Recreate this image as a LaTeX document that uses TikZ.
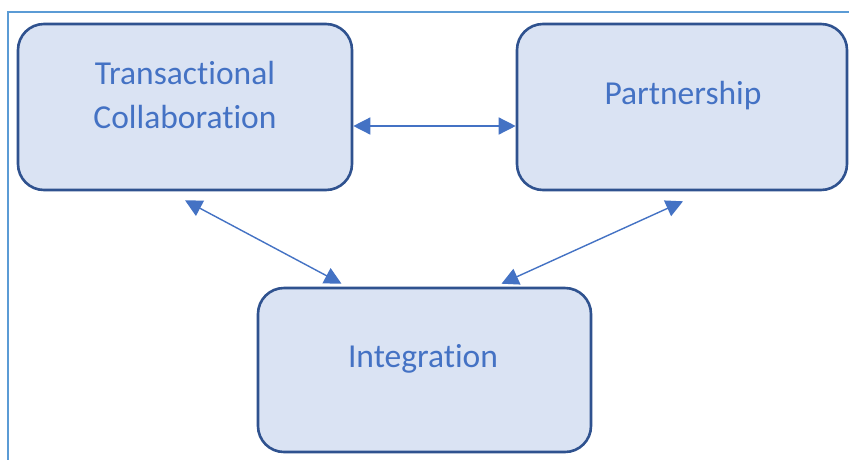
\documentclass[tikz,border=0pt]{standalone}
\usepackage{fontspec}
\setmainfont{Carlito}[Ligatures=NoCommon]
\usetikzlibrary{arrows.meta,calc}
\definecolor{boxfill}{HTML}{DAE3F3}
\definecolor{boxline}{HTML}{2F528F}
\definecolor{txtblue}{HTML}{4472C4}
\definecolor{arrblue}{HTML}{4472C4}
\definecolor{frameblue}{HTML}{5B9BD5}
\tikzset{
  box/.style={draw=boxline, fill=boxfill, line width=2.6pt, rounded corners=26pt, inner sep=0pt},
  lbl/.style={text=txtblue, font=\fontsize{33.5}{44}\selectfont, align=center, inner sep=0pt},
  link/.style={draw=arrblue, line width=1.4pt, {Triangle[length=17pt,width=17pt]}-{Triangle[length=17pt,width=17pt]}},
  frame/.style={draw=frameblue, line width=1.4pt}
}
\begin{document}
\begin{tikzpicture}[x=1pt,y=-1pt]
\useasboundingbox (0,0) rectangle (849,459);
\fill[white] (0,0) rectangle (849,459);
\draw[frame] (8,470) -- (8,12) -- (860,12);
\node[box, minimum width=334pt, minimum height=166pt] (tc) at (185,107) {};
\node[box, minimum width=330pt, minimum height=166pt] (p) at (682,107) {};
\node[box, minimum width=333pt, minimum height=164pt] (in) at (424.5,370) {};
\node[lbl] (tct) at (185,95) {Transactional\\Collaboration};
\node[lbl, anchor=base] (pt) at (683,104) {Partnership};
\node[lbl, anchor=base] (it) at (423,367) {Integration};
\coordinate (h1) at (tc.east |- 0,126);
\coordinate (h2) at (p.west |- 0,126);
\draw[link] (h1) -- (h2);
\coordinate (a1) at ($(tc.south)+(0,9)$);
\coordinate (a2) at ($(in.north)+(-83,-3)$);
\coordinate (b1) at ($(p.south)+(1,10)$);
\coordinate (b2) at ($(in.north)+(77,-3)$);
\draw[link] (a1) -- (a2);
\draw[link] (b1) -- (b2);
\end{tikzpicture}
\end{document}
